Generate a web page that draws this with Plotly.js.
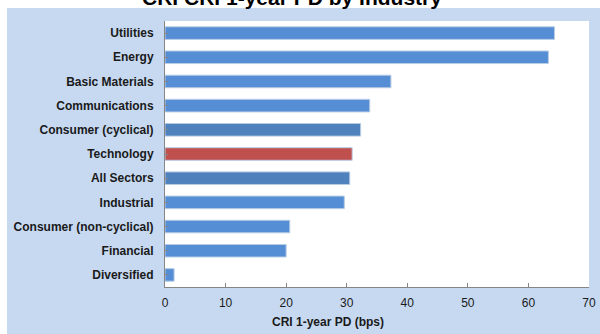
<!DOCTYPE html>
<html><head><meta charset="utf-8">
<script src="https://cdn.plot.ly/plotly-3.0.1.min.js"></script>
<style>html,body{margin:0;padding:0;background:#fff}#c{width:600px;height:334px}</style>
</head><body><div id="c"></div>
<script>
const categories = ["Utilities","Energy","Basic Materials","Communications","Consumer (cyclical)","Technology","All Sectors","Industrial","Consumer (non-cyclical)","Financial","Diversified"];
const pdValues = [64.3,63.3,37.3,33.8,32.3,30.9,30.5,29.6,20.6,20.0,1.5];
const barColors = ["#558ed5","#558ed5","#558ed5","#558ed5","#4f81bd","#c0504d","#4f81bd","#558ed5","#558ed5","#558ed5","#558ed5"];
const xTicks = [0,10,20,30,40,50,60,70];

const trace = {
  type:'bar', orientation:'h', x:pdValues, y:categories,
  marker:{color:barColors, line:{color:'#b9cde5', width:1}},
  width:0.52, hoverinfo:'x+y'
};
const layout = {
  width:600, height:334,
  margin:{l:165, r:11, t:21, b:47, pad:0},
  paper_bgcolor:'#ffffff', plot_bgcolor:'rgba(0,0,0,0)',
  showlegend:false,
  font:{family:'Arial, Liberation Sans, sans-serif', color:'#1a1a1a'},
  xaxis:{range:[0,70], tickvals:xTicks, ticktext:xTicks.map(String), showgrid:false, zeroline:false,
    showline:true, linecolor:'#868686', linewidth:1, ticks:'inside', ticklen:4, tickcolor:'#868686',
    tickfont:{size:12, color:'#1a1a1a'}, ticklabelstandoff:5, fixedrange:true},
  yaxis:{type:'category', categoryorder:'array', categoryarray:categories, autorange:'reversed',
    showgrid:false, zeroline:false, showline:true, linecolor:'#868686', linewidth:1,
    ticks:'inside', ticklen:3, tickcolor:'#868686', ticklabelstandoff:8,
    tickfont:{size:12, color:'#1a1a1a', weight:'bold'}, fixedrange:true},
  shapes:[
    {type:'rect', xref:'paper', yref:'paper', x0:-0.3726, x1:1.04, y0:-0.18, y1:1.0489, fillcolor:'#c6d9f1', line:{width:0}, layer:'below'},
    {type:'rect', xref:'paper', yref:'paper', x0:0, x1:1, y0:0, y1:1, fillcolor:'#ffffff', line:{width:0}, layer:'below'}
  ],
  annotations:[
    {text:'CRI CRI 1-year PD by Industry', xref:'paper', yref:'paper', x:0, y:1, xanchor:'center', yanchor:'middle',
     showarrow:false, font:{size:21, weight:'bold', color:'#000'}},
    {text:'CRI 1-year PD (bps)', xref:'paper', yref:'paper', x:0, y:0, xanchor:'center', yanchor:'middle',
     showarrow:false, font:{size:12, weight:'bold', color:'#1a1a1a'}}
  ]
};
layout.annotations[0].x = (292-165)/424;
layout.annotations[0].y = (287-(-3))/266;
layout.annotations[1].x = (328-165)/424;
layout.annotations[1].y = (287-322)/266;
Plotly.newPlot('c',[trace],layout,{displayModeBar:false, staticPlot:true});
</script></body></html>
